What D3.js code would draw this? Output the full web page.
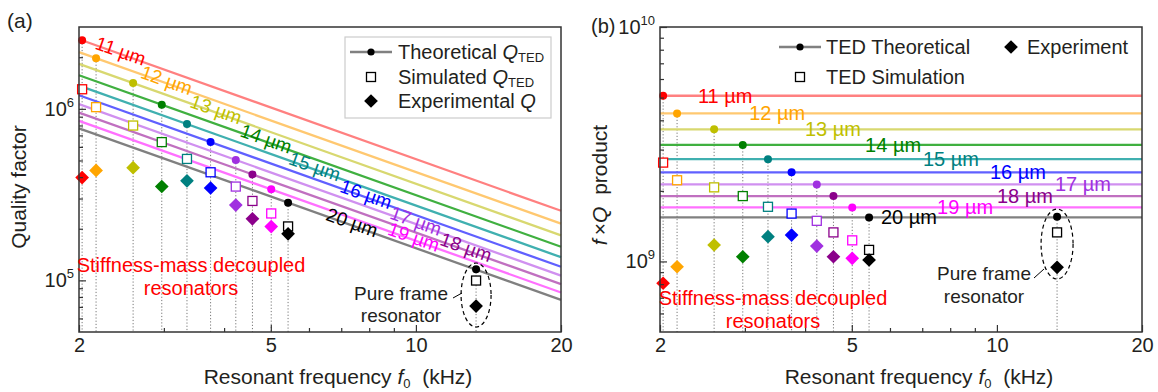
<!DOCTYPE html>
<html>
<head>
<meta charset="utf-8">
<script src="https://cdn.jsdelivr.net/npm/d3@7"></script>
<style>
body { margin: 0; background: #fff; }
svg { font-family: "Liberation Sans", Arial, Helvetica, sans-serif; }
</style>
</head>
<body>
<script>
// beam widths of the stiffness-mass decoupled resonators
var widths = ["11 µm", "12 µm", "13 µm", "14 µm", "15 µm", "16 µm", "17 µm", "18 µm", "19 µm", "20 µm"];
var colors = ["#ff0000", "#ffa500", "#bfbf00", "#008000", "#008080", "#0000ff", "#a030e0", "#8b008b", "#ff00ff", "#000000"];
var lineColors = ["#ff8080", "#ffc870", "#d8d870", "#40b040", "#40b0b0", "#6060ff", "#d090f0", "#c070c0", "#ff70ff", "#808080"];
// resonant frequency f0 (kHz)
var freq = [2.03, 2.17, 2.59, 2.97, 3.35, 3.75, 4.23, 4.58, 5.01, 5.43];
// f x Q products (x 1e9 Hz)
var fqTheory = [5.09, 4.28, 3.66, 3.14, 2.73, 2.40, 2.13, 1.90, 1.70, 1.54];
var fqSim = [2.64, 2.22, 2.07, 1.90, 1.71, 1.60, 1.49, 1.33, 1.23, 1.12];
var fqExp = [0.807, 0.949, 1.175, 1.047, 1.275, 1.296, 1.163, 1.047, 1.031, 1.014];
// pure frame resonator
var pureFreq = 13.33, pureTheory = 1.55, pureSim = 1.33, pureExp = 0.944;

// where the width labels sit along the lines (kHz)
var labelFreqA = [2.44, 3.04, 3.85, 4.89, 6.17, 7.88, 10.0, 12.7, 9.9, 7.37];
var labelFreqB = [2.73, 3.50, 4.57, 6.09, 8.03, 11.06, 15.08, 11.43, 8.59, 6.57];

var xTicks = [2, 5, 10, 20],
    xMinor = [3, 4, 6, 7, 8, 9];

var svg = d3.select('body').append('svg').attr('width', 1158).attr('height', 392);
var ink = '#231f20';

function qOf(fq, f) { return fq * 1e6 / f; }   // Q = fQ / f

var diamond = d3.symbol().type(d3.symbolDiamond2 || d3.symbolDiamond).size(120);

function drawPanel(p) {
  var x = d3.scaleLog().domain([2, 20]).range([p.left, p.left + 482]);
  var y = d3.scaleLog().domain(p.yDomain).range([332, 27]);
  var g = svg.append('g');
  var val = p.val;

  // dotted drop lines
  var drops = freq.map(function(f, i) { return {f: f, v: val(fqTheory[i], f)}; });
  drops.push({f: pureFreq, v: val(pureTheory, pureFreq)});
  g.selectAll('line.drop').data(drops).enter().append('line')
    .attr('x1', function(d) { return x(d.f); }).attr('x2', function(d) { return x(d.f); })
    .attr('y1', function(d) { return y(d.v); }).attr('y2', 332)
    .attr('stroke', '#777').attr('stroke-width', 1).attr('stroke-dasharray', '1.2,2');

  // theoretical lines
  widths.forEach(function(w, i) {
    g.append('line')
      .attr('x1', x(2)).attr('x2', x(20))
      .attr('y1', y(val(fqTheory[i], 2))).attr('y2', y(val(fqTheory[i], 20)))
      .attr('stroke', lineColors[i]).attr('stroke-width', 2.3);
  });

  // width labels
  widths.forEach(function(w, i) {
    var f = p.labelFreq[i];
    var lx = x(f), ly = y(val(fqTheory[i], f)) + p.labelDy;
    g.append('text').attr('x', lx).attr('y', ly)
      .attr('text-anchor', 'middle').attr('dominant-baseline', 'central')
      .attr('transform', 'rotate(' + p.angle + ',' + lx + ',' + ly + ')')
      .attr('fill', colors[i]).attr('font-size', p.labelSize).text(w);
  });

  // theoretical dots
  g.selectAll('circle.th').data(drops).enter().append('circle')
    .attr('cx', function(d) { return x(d.f); }).attr('cy', function(d) { return y(d.v); })
    .attr('r', 4).attr('fill', function(d, i) { return colors[i] || '#000'; });

  // simulated squares
  var sims = freq.map(function(f, i) { return {f: f, v: val(fqSim[i], f), c: colors[i]}; });
  sims.push({f: pureFreq, v: val(pureSim, pureFreq), c: '#000'});
  g.selectAll('rect.sim').data(sims).enter().append('rect')
    .attr('x', function(d) { return x(d.f) - 4.5; }).attr('y', function(d) { return y(d.v) - 4.5; })
    .attr('width', 9).attr('height', 9).attr('fill', '#fff')
    .attr('stroke', function(d) { return d.c; }).attr('stroke-width', 1.3);

  // experimental diamonds
  var exps = freq.map(function(f, i) { return {f: f, v: val(fqExp[i], f), c: colors[i]}; });
  exps.push({f: pureFreq, v: val(pureExp, pureFreq), c: '#000'});
  g.selectAll('path.exp').data(exps).enter().append('path')
    .attr('d', diamond)
    .attr('transform', function(d) { return 'translate(' + x(d.f) + ',' + y(d.v) + ')'; })
    .attr('fill', function(d) { return d.c; });

  // frame
  g.append('rect').attr('x', p.left).attr('y', 27).attr('width', 482).attr('height', 305)
    .attr('fill', 'none').attr('stroke', '#333').attr('stroke-width', 1.5);

  // x ticks (inward)
  var ax = g.append('g').attr('transform', 'translate(0,332)');
  ax.call(d3.axisBottom(x).tickValues(xTicks).tickSize(-7).tickFormat(d3.format('d')));
  ax.append('g').call(d3.axisBottom(x).tickValues(xMinor).tickSize(-4).tickFormat(''));
  ax.selectAll('.domain').remove();
  ax.selectAll('line').attr('stroke', '#333').attr('stroke-width', 1.2);
  ax.selectAll('text').attr('font-size', 20).attr('fill', ink).attr('dy', '0.85em')
    .attr('font-family', '"Liberation Sans", Arial, sans-serif');

  // y ticks (inward)
  var ay = g.append('g').attr('transform', 'translate(' + p.left + ',0)');
  ay.call(d3.axisLeft(y).tickValues(p.yMajor).tickSize(-7).tickFormat(''));
  ay.append('g').call(d3.axisLeft(y).tickValues(p.yMinor).tickSize(-4).tickFormat(''));
  ay.selectAll('.domain').remove();
  ay.selectAll('line').attr('stroke', '#333').attr('stroke-width', 1.2);
  p.yMajor.forEach(function(v) {
    var t = g.append('text').attr('x', p.left - 5).attr('y', y(v) + 7)
      .attr('text-anchor', 'end').attr('fill', ink).attr('font-size', 20);
    t.append('tspan').text('10');
    t.append('tspan').attr('font-size', 13).attr('dy', -9).text(Math.round(Math.log10(v)));
  });

  // axis titles
  var xt = g.append('text').attr('x', p.left + 259).attr('y', 384).attr('text-anchor', 'middle')
    .attr('fill', ink).attr('font-size', 21);
  xt.append('tspan').text('Resonant frequency ');
  xt.append('tspan').attr('font-style', 'italic').text('f');
  xt.append('tspan').attr('font-size', 13).attr('dy', 4).text('0');
  xt.append('tspan').attr('dy', -4).text('\u00a0 (kHz)');

  return {g: g, x: x, y: y};
}

// ---------- panel (a) ----------
var a = drawPanel({
  left: 79, yDomain: [5e4, 3e6], yMajor: [1e5, 1e6],
  yMinor: [6e4, 7e4, 8e4, 9e4, 2e5, 3e5, 4e5, 5e5, 6e5, 7e5, 8e5, 9e5, 2e6],
  val: qOf, labelFreq: labelFreqA, labelDy: -3, angle: 19.6, labelSize: 19
});
a.g.append('text').attr('transform', 'translate(26,187) rotate(-90)')
  .attr('text-anchor', 'middle').attr('fill', ink).attr('font-size', 21).text('Quality factor');

// ---------- panel (b) ----------
var b = drawPanel({
  left: 660, yDomain: [5e8, 1e10], yMajor: [1e9, 1e10],
  yMinor: [6e8, 7e8, 8e8, 9e8, 2e9, 3e9, 4e9, 5e9, 6e9, 7e9, 8e9, 9e9],
  val: function(fq) { return fq * 1e9; }, labelFreq: labelFreqB, labelDy: 0, angle: 0, labelSize: 20
});
var ft = b.g.append('text').attr('transform', 'translate(607,185) rotate(-90)')
  .attr('text-anchor', 'middle').attr('fill', ink).attr('font-size', 21);
ft.append('tspan').attr('font-style', 'italic').text('f');
ft.append('tspan').text('\u2009\u00d7');
ft.append('tspan').attr('font-style', 'italic').text('Q');
ft.append('tspan').text('\u00a0 product');

// panel letters
svg.append('text').attr('x', 7).attr('y', 28).attr('fill', ink).attr('font-size', 21).text('(a)');
svg.append('text').attr('x', 591).attr('y', 33).attr('fill', ink).attr('font-size', 20).text('(b)');

// annotations
function twoLines(g, cx, y1, y2, l1, l2, color, size) {
  g.append('text').attr('x', cx).attr('y', y1).attr('text-anchor', 'middle')
    .attr('fill', color).attr('font-size', size).text(l1);
  g.append('text').attr('x', cx).attr('y', y2).attr('text-anchor', 'middle')
    .attr('fill', color).attr('font-size', size).text(l2);
}
twoLines(a.g, 191, 272, 295, 'Stiffness-mass decoupled', 'resonators', '#ff0000', 20);
twoLines(b.g, 773, 305, 328, 'Stiffness-mass decoupled', 'resonators', '#ff0000', 20);
twoLines(a.g, 401, 300, 322, 'Pure frame', 'resonator', ink, 19);
twoLines(b.g, 984, 280, 303, 'Pure frame', 'resonator', ink, 19);

[[a, 295, 15, 32], [b, 244, 16, 35]].forEach(function(e) {
  var p = e[0];
  p.g.append('ellipse').attr('cx', p.x(pureFreq)).attr('cy', e[1]).attr('rx', e[2]).attr('ry', e[3])
    .attr('fill', 'none').attr('stroke', '#000').attr('stroke-width', 1.2).attr('stroke-dasharray', '4,3');
});
a.g.append('line').attr('x1', 453).attr('y1', 298).attr('x2', 462).attr('y2', 293).attr('stroke', '#000');
b.g.append('line').attr('x1', 1034).attr('y1', 278).attr('x2', 1044).attr('y2', 269).attr('stroke', '#000');

// ---------- legends ----------
var la = a.g.append('g');
la.append('rect').attr('x', 345).attr('y', 37).attr('width', 206).attr('height', 81)
  .attr('fill', '#fff').attr('stroke', '#ccc').attr('stroke-width', 1.2);
function legendItems(g, items) {
  items.forEach(function(it) {
    if (it.kind === 'line') {
      g.append('line').attr('x1', it.x - 21).attr('x2', it.x + 21).attr('y1', it.y).attr('y2', it.y)
        .attr('stroke', '#808080').attr('stroke-width', 2.3);
      g.append('circle').attr('cx', it.x).attr('cy', it.y).attr('r', 3.6).attr('fill', '#000');
    } else if (it.kind === 'square') {
      g.append('rect').attr('x', it.x - 4.5).attr('y', it.y - 4.5).attr('width', 9).attr('height', 9)
        .attr('fill', 'none').attr('stroke', '#000').attr('stroke-width', 1.3);
    } else {
      g.append('path').attr('d', diamond).attr('transform', 'translate(' + it.x + ',' + it.y + ')').attr('fill', '#000');
    }
    var t = g.append('text').attr('x', it.tx).attr('y', it.y).attr('dominant-baseline', 'central')
      .attr('fill', ink).attr('font-size', 20);
    it.parts.forEach(function(pt) {
      var s = t.append('tspan').text(pt[0]);
      if (pt[1] === 'i') s.attr('font-style', 'italic');
      if (pt[1] === 'sub') s.attr('font-size', 13).attr('dy', 5);
    });
  });
}
legendItems(la, [
  {kind: 'line', x: 371, y: 52, tx: 398, parts: [['Theoretical '], ['Q', 'i'], ['TED', 'sub']]},
  {kind: 'square', x: 371, y: 77, tx: 398, parts: [['Simulated '], ['Q', 'i'], ['TED', 'sub']]},
  {kind: 'diamond', x: 371, y: 101, tx: 398, parts: [['Experimental '], ['Q', 'i']]}
]);
legendItems(b.g.append('g'), [
  {kind: 'line', x: 800, y: 47, tx: 826, parts: [['TED Theoretical']]},
  {kind: 'square', x: 800, y: 77, tx: 826, parts: [['TED Simulation']]},
  {kind: 'diamond', x: 1011, y: 47, tx: 1027, parts: [['Experiment']]}
]);
</script>
</body>
</html>
